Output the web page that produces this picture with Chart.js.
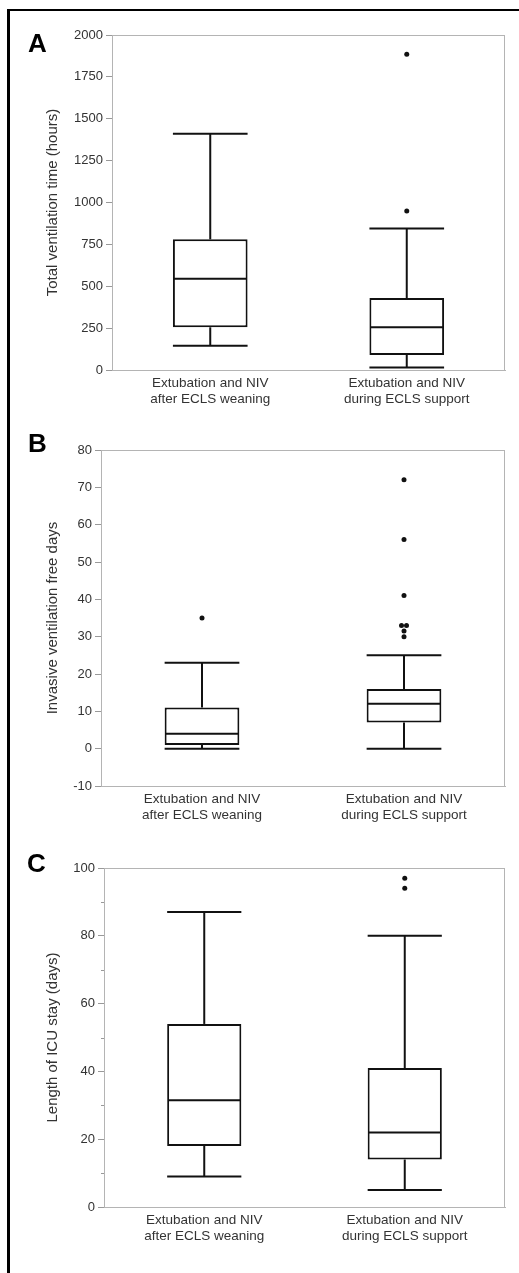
<!DOCTYPE html>
<html>
<head>
<meta charset="utf-8">
<script src="https://cdn.jsdelivr.net/npm/chart.js@4.4.0/dist/chart.umd.min.js"></script>
<style>
    html, body { margin: 0; padding: 0; background: #fff; }
    body { width: 519px; height: 1273px; position: relative; overflow: hidden; font-family: "Liberation Sans", Arial, sans-serif; }
    .frame { position: absolute; left: 7px; top: 9px; width: 530px; height: 1290px; border-left: 3px solid #000; border-top: 2px solid #000; }
    canvas { position: absolute; left: 0; }
    .letter { position: absolute; font-size: 26px; font-weight: bold; line-height: 1; color: #000; }
</style>
</head>
<body>
<div class="frame"></div>
<canvas id="chartA" width="519" height="420" style="top:0px"></canvas>
<canvas id="chartB" width="519" height="420" style="top:412px"></canvas>
<canvas id="chartC" width="519" height="447" style="top:826px"></canvas>
<div class="letter" style="left:28px;top:30px">A</div>
<div class="letter" style="left:28px;top:430px">B</div>
<div class="letter" style="left:27px;top:850px">C</div>
<script>
// 分组
const categories = [
    ['Extubation and NIV', 'after ECLS weaning'],
    ['Extubation and NIV', 'during ECLS support']
];

// A: total ventilation time (hours)
const ventMin = [145, 15];
const ventQ1 = [255, 90];
const ventMedian = [545, 255];
const ventQ3 = [780, 430];
const ventMax = [1410, 845];
const ventOutliers = [[], [950, 1885]];
const ventTicks = { min: 0, max: 2000, step: 250 };

// B: invasive ventilation free days
const freeMin = [0, 0];
const freeQ1 = [1, 7];
const freeMedian = [4, 12];
const freeQ3 = [11, 16];
const freeMax = [23, 25];
const freeOutliers = [[35], [72, 56, 41, 33, 33, 31.5, 30]];
const freeTicks = { min: -10, max: 80, step: 10 };

// C: length of ICU stay (days)
const icuMin = [9, 5];
const icuQ1 = [18, 14];
const icuMedian = [31.5, 22];
const icuQ3 = [54, 41];
const icuMax = [87, 80];
const icuOutliers = [[], [97, 94]];
const icuTicks = { min: 0, max: 100, step: 10, labelEvery: 20 };

Chart.defaults.font.family = '"Liberation Sans", Arial, sans-serif';

const LINE = '#111';
const FRAME = '#b4b4b4';
const TICK = '#999';

const isMinor = (ticks, v) => ticks.labelEvery && v % ticks.labelEvery !== 0;

// whiskers, median, outliers, minor ticks and the plot frame
const boxPlugin = {
    id: 'boxExtras',
    afterDatasetsDraw(chart, args, opts) {
        const { ctx, chartArea } = chart;
        const y = chart.scales.y;
        const s = opts.stats;
        const meta = chart.getDatasetMeta(0);

        ctx.save();
        ctx.strokeStyle = FRAME;
        ctx.lineWidth = 1;
        ctx.strokeRect(Math.round(chartArea.left) + 0.5, Math.round(chartArea.top) + 0.5,
            Math.round(chartArea.width) - 1, Math.round(chartArea.height));

        // short minor ticks
        ctx.strokeStyle = TICK;
        y.ticks.forEach(t => {
            if (!isMinor(opts.ticks, t.value)) return;
            const py = Math.round(y.getPixelForValue(t.value)) + 0.5;
            ctx.beginPath();
            ctx.moveTo(chartArea.left - 3, py);
            ctx.lineTo(chartArea.left, py);
            ctx.stroke();
        });

        ctx.strokeStyle = LINE;
        ctx.lineWidth = 2;
        ctx.lineCap = 'butt';
        const line = (x1, y1, x2, y2) => {
            ctx.beginPath();
            ctx.moveTo(x1, y1);
            ctx.lineTo(x2, y2);
            ctx.stroke();
        };

        meta.data.forEach((bar, i) => {
            const cx = bar.x;
            const half = bar.width / 2;
            const yMin = y.getPixelForValue(s.min[i]);
            const yQ1 = y.getPixelForValue(s.q1[i]);
            const yMed = y.getPixelForValue(s.median[i]);
            const yQ3 = y.getPixelForValue(s.q3[i]);
            const yMax = y.getPixelForValue(s.max[i]);

            line(cx, yQ3, cx, yMax);
            line(cx, yQ1, cx, yMin);
            line(cx - half, yMax, cx + half, yMax);
            line(cx - half, yMin, cx + half, yMin);
            line(cx - half + 1, yMed, cx + half - 1, yMed);

            ctx.fillStyle = LINE;
            const seen = {};
            s.outliers[i].forEach(v => {
                const dup = s.outliers[i].filter(o => o === v).length;
                seen[v] = (seen[v] || 0) + 1;
                const dx = dup > 1 ? (seen[v] === 1 ? -2.5 : 2.5) : 0;
                ctx.beginPath();
                ctx.arc(cx + dx, y.getPixelForValue(v), 2.5, 0, Math.PI * 2);
                ctx.fill();
            });
        });
        ctx.restore();
    }
};

function makeChart(id, stats, ticks, title, pad, yWidth, barPct) {
    const ctx = document.getElementById(id);
    return new Chart(ctx, {
        type: 'bar',
        data: {
            labels: categories,
            datasets: [{
                data: stats.q1.map((v, i) => [v, stats.q3[i]]),
                backgroundColor: '#fff',
                borderColor: LINE,
                borderWidth: 2,
                borderSkipped: false,
                barPercentage: barPct,
                categoryPercentage: 1
            }]
        },
        options: {
            responsive: false,
            animation: false,
            devicePixelRatio: 1,
            layout: { padding: pad },
            plugins: {
                legend: { display: false },
                tooltip: { enabled: false },
                boxExtras: { stats: stats, ticks: ticks }
            },
            scales: {
                x: {
                    grid: { display: false, drawTicks: false },
                    border: { color: FRAME },
                    ticks: { color: '#333', font: { size: 13.5 }, padding: 5 },
                    afterFit: sc => { sc.height = 44; }
                },
                y: {
                    min: ticks.min,
                    max: ticks.max,
                    ticks: {
                        stepSize: ticks.step,
                        color: '#333',
                        font: { size: 13 },
                        padding: 3,
                        callback: v => isMinor(ticks, v) ? '' : v
                    },
                    grid: {
                        drawOnChartArea: false,
                        tickLength: 6,
                        color: TICK,
                        tickColor: c => (c.tick && isMinor(ticks, c.tick.value)) ? 'rgba(0,0,0,0)' : TICK
                    },
                    border: { color: FRAME },
                    title: { display: true, text: title, color: '#333', font: { size: 15 } },
                    afterFit: sc => { sc.width = yWidth; }
                }
            }
        },
        plugins: [boxPlugin]
    });
}

makeChart('chartA',
    { min: ventMin, q1: ventQ1, median: ventMedian, q3: ventQ3, max: ventMax, outliers: ventOutliers },
    ventTicks, 'Total ventilation time (hours)',
    { left: 40, right: 14, top: 35, bottom: 6 }, 72, 0.38);

makeChart('chartB',
    { min: freeMin, q1: freeQ1, median: freeMedian, q3: freeQ3, max: freeMax, outliers: freeOutliers },
    freeTicks, 'Invasive ventilation free days',
    { left: 40, right: 14, top: 38, bottom: 2 }, 61, 0.37);

makeChart('chartC',
    { min: icuMin, q1: icuQ1, median: icuMedian, q3: icuQ3, max: icuMax, outliers: icuOutliers },
    icuTicks, 'Length of ICU stay (days)',
    { left: 40, right: 14, top: 42, bottom: 22 }, 64, 0.37);
</script>
</body>
</html>
